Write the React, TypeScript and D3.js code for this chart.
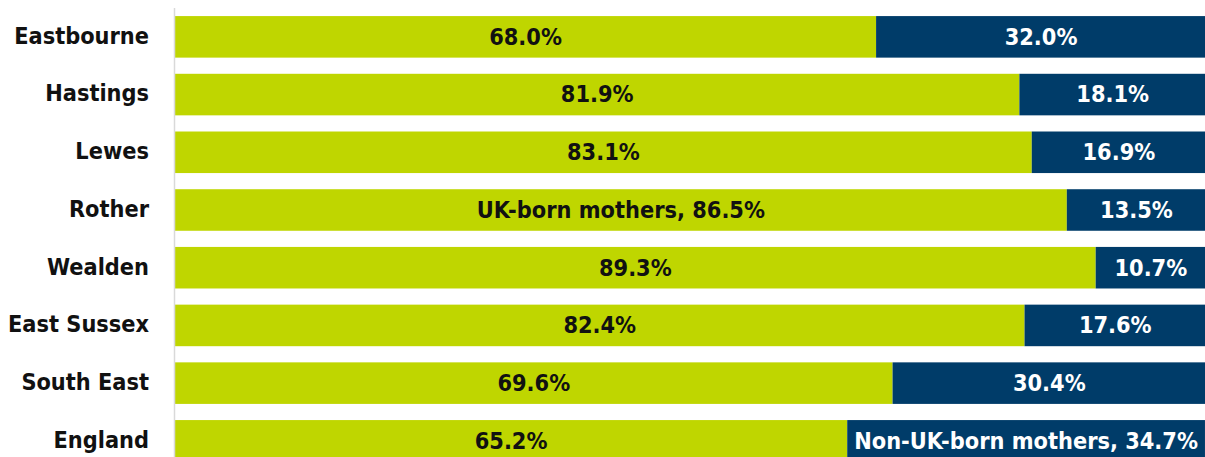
import React from "react";
import * as d3 from "d3";

const categories = ["Eastbourne", "Hastings", "Lewes", "Rother", "Wealden", "East Sussex", "South East", "England"];
const ukBorn = [68.0, 81.9, 83.1, 86.5, 89.3, 82.4, 69.6, 65.2];
const nonUkBorn = [32.0, 18.1, 16.9, 13.5, 10.7, 17.6, 30.4, 34.7];
const ukLabelPrefix = ["", "", "", "UK-born mothers, ", "", "", "", ""];
const nonUkLabelPrefix = ["", "", "", "", "", "", "", "Non-UK-born mothers, "];

const W = 1205;
const H = 457;
const FONT = "'DejaVu Sans Condensed', 'DejaVu Sans', sans-serif";
const FS = 23.3;

export default function App() {
  const x = d3.scaleLinear().domain([0, 100]).range([175, 1206]);
  const y = d3.scaleBand<string>().domain(categories).range([8, 469.7]).paddingInner(0.28).paddingOuter(0.14);
  const bh = y.bandwidth();
  return (
    <svg width={W} height={H} style={{ position: "absolute", left: 0, top: 0, display: "block" }}>
      <rect x={0} y={0} width={W} height={H} fill="#fff" />
      {categories.map((c, i) => {
        const y0 = y(c)!;
        const cy = y0 + bh / 2;
        const xUk = x(ukBorn[i]);
        return (
          <g key={c}>
            <rect x={x(0)} y={y0} width={xUk - x(0)} height={bh} fill="#BFD600" />
            <rect x={xUk} y={y0} width={x(ukBorn[i] + nonUkBorn[i]) - xUk} height={bh} fill="#003C69" />
            <text x={149} y={cy + 6.8} textAnchor="end" fontFamily={FONT} fontWeight="bold" fontSize={FS} fill="#111">{c}</text>
            <text x={(x(0) + xUk) / 2} y={cy + 7.8} textAnchor="middle" fontFamily={FONT} fontWeight="bold" fontSize={FS} fill="#111">{ukLabelPrefix[i] + ukBorn[i].toFixed(1) + "%"}</text>
            <text x={(xUk + x(ukBorn[i] + nonUkBorn[i])) / 2} y={cy + 7.8} textAnchor="middle" fontFamily={FONT} fontWeight="bold" fontSize={FS} fill="#fff">{nonUkLabelPrefix[i] + nonUkBorn[i].toFixed(1) + "%"}</text>
          </g>
        );
      })}
      <line x1={174.5} x2={174.5} y1={8} y2={H} stroke="#d9d9d9" strokeWidth={1.5} />
    </svg>
  );
}
